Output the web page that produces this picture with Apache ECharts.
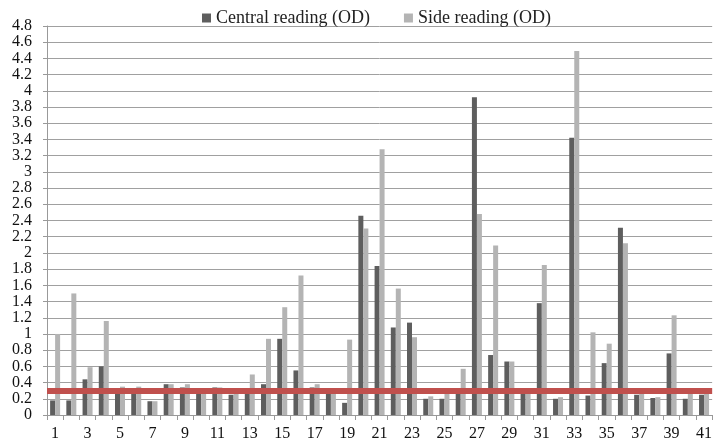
<!DOCTYPE html>
<html>
<head>
<meta charset="utf-8">
<script src="https://cdn.jsdelivr.net/npm/echarts@6/dist/echarts.min.js"></script>
<style>
html,body{margin:0;padding:0;background:#fff;}
#c{width:715px;height:448px;}
</style>
</head>
<body>
<div id="c"></div>
<script>
var categories = [];
for (var i = 1; i <= 41; i++) categories.push(String(i));

var centralReading = [0.18,0.18,0.44,0.60,0.29,0.29,0.17,0.38,0.34,0.29,
  0.34,0.25,0.29,0.38,0.94,0.55,0.34,0.28,0.15,2.46,
  1.84,1.08,1.14,0.20,0.20,0.29,3.92,0.74,0.66,0.29,
  1.38,0.20,3.42,0.24,0.64,2.31,0.25,0.21,0.76,0.20,0.25];

var sideReading = [1.00,1.50,0.59,1.16,0.35,0.35,0.17,0.38,0.38,0.29,
  0.34,0.28,0.50,0.94,1.33,1.72,0.38,0.28,0.93,2.30,
  3.28,1.56,0.96,0.23,0.28,0.57,2.48,2.09,0.66,0.29,
  1.85,0.22,4.49,1.02,0.88,2.12,0.26,0.22,1.23,0.28,0.26];

var cutoffValue = 0.3;

var font = 'Liberation Serif';
var chart = echarts.init(document.getElementById('c'));
chart.setOption({
  animation: false,
  textStyle: {fontFamily: font},
  legend: {
    top: 4,
    left: 197,
    itemWidth: 9,
    itemHeight: 9,
    itemGap: 34,
    icon: 'rect',
    textStyle: {fontFamily: font, fontSize: 18, color: '#222'},
    data: ['Central reading (OD)', 'Side reading (OD)']
  },
  grid: {left: 47, top: 26, width: 669, height: 389, containLabel: false},
  xAxis: {
    type: 'category',
    data: categories,
    axisLine: {lineStyle: {color: '#999', width: 1}},
    axisTick: {show: true, interval: 0, length: 5, lineStyle: {color: '#999'}},
    axisLabel: {interval: 1, fontFamily: font, fontSize: 16, color: '#111', margin: 11}
  },
  yAxis: {
    type: 'value',
    min: 0,
    max: 4.8,
    interval: 0.2,
    axisLine: {show: true, lineStyle: {color: '#999'}},
    axisTick: {show: true, length: 4, lineStyle: {color: '#999'}},
    splitLine: {lineStyle: {color: '#a0a0a0', width: 1}},
    axisLabel: {fontFamily: font, fontSize: 16, color: '#111', margin: 15,
      formatter: function (v) { return String(Math.round(v * 10) / 10); }}
  },
  series: [
    {
      name: 'Central reading (OD)',
      type: 'bar',
      data: centralReading,
      barWidth: 5,
      barGap: '0%',
      itemStyle: {color: '#5e5e5e'}
    },
    {
      name: 'Side reading (OD)',
      type: 'bar',
      data: sideReading,
      barWidth: 5,
      barGap: '0%',
      itemStyle: {color: '#b4b4b4'},
      markLine: {
        silent: true,
        symbol: 'none',
        label: {show: false},
        lineStyle: {color: '#c0504d', width: 6, type: 'solid'},
        data: [{yAxis: cutoffValue}]
      }
    }
  ]
});
</script>
</body>
</html>
